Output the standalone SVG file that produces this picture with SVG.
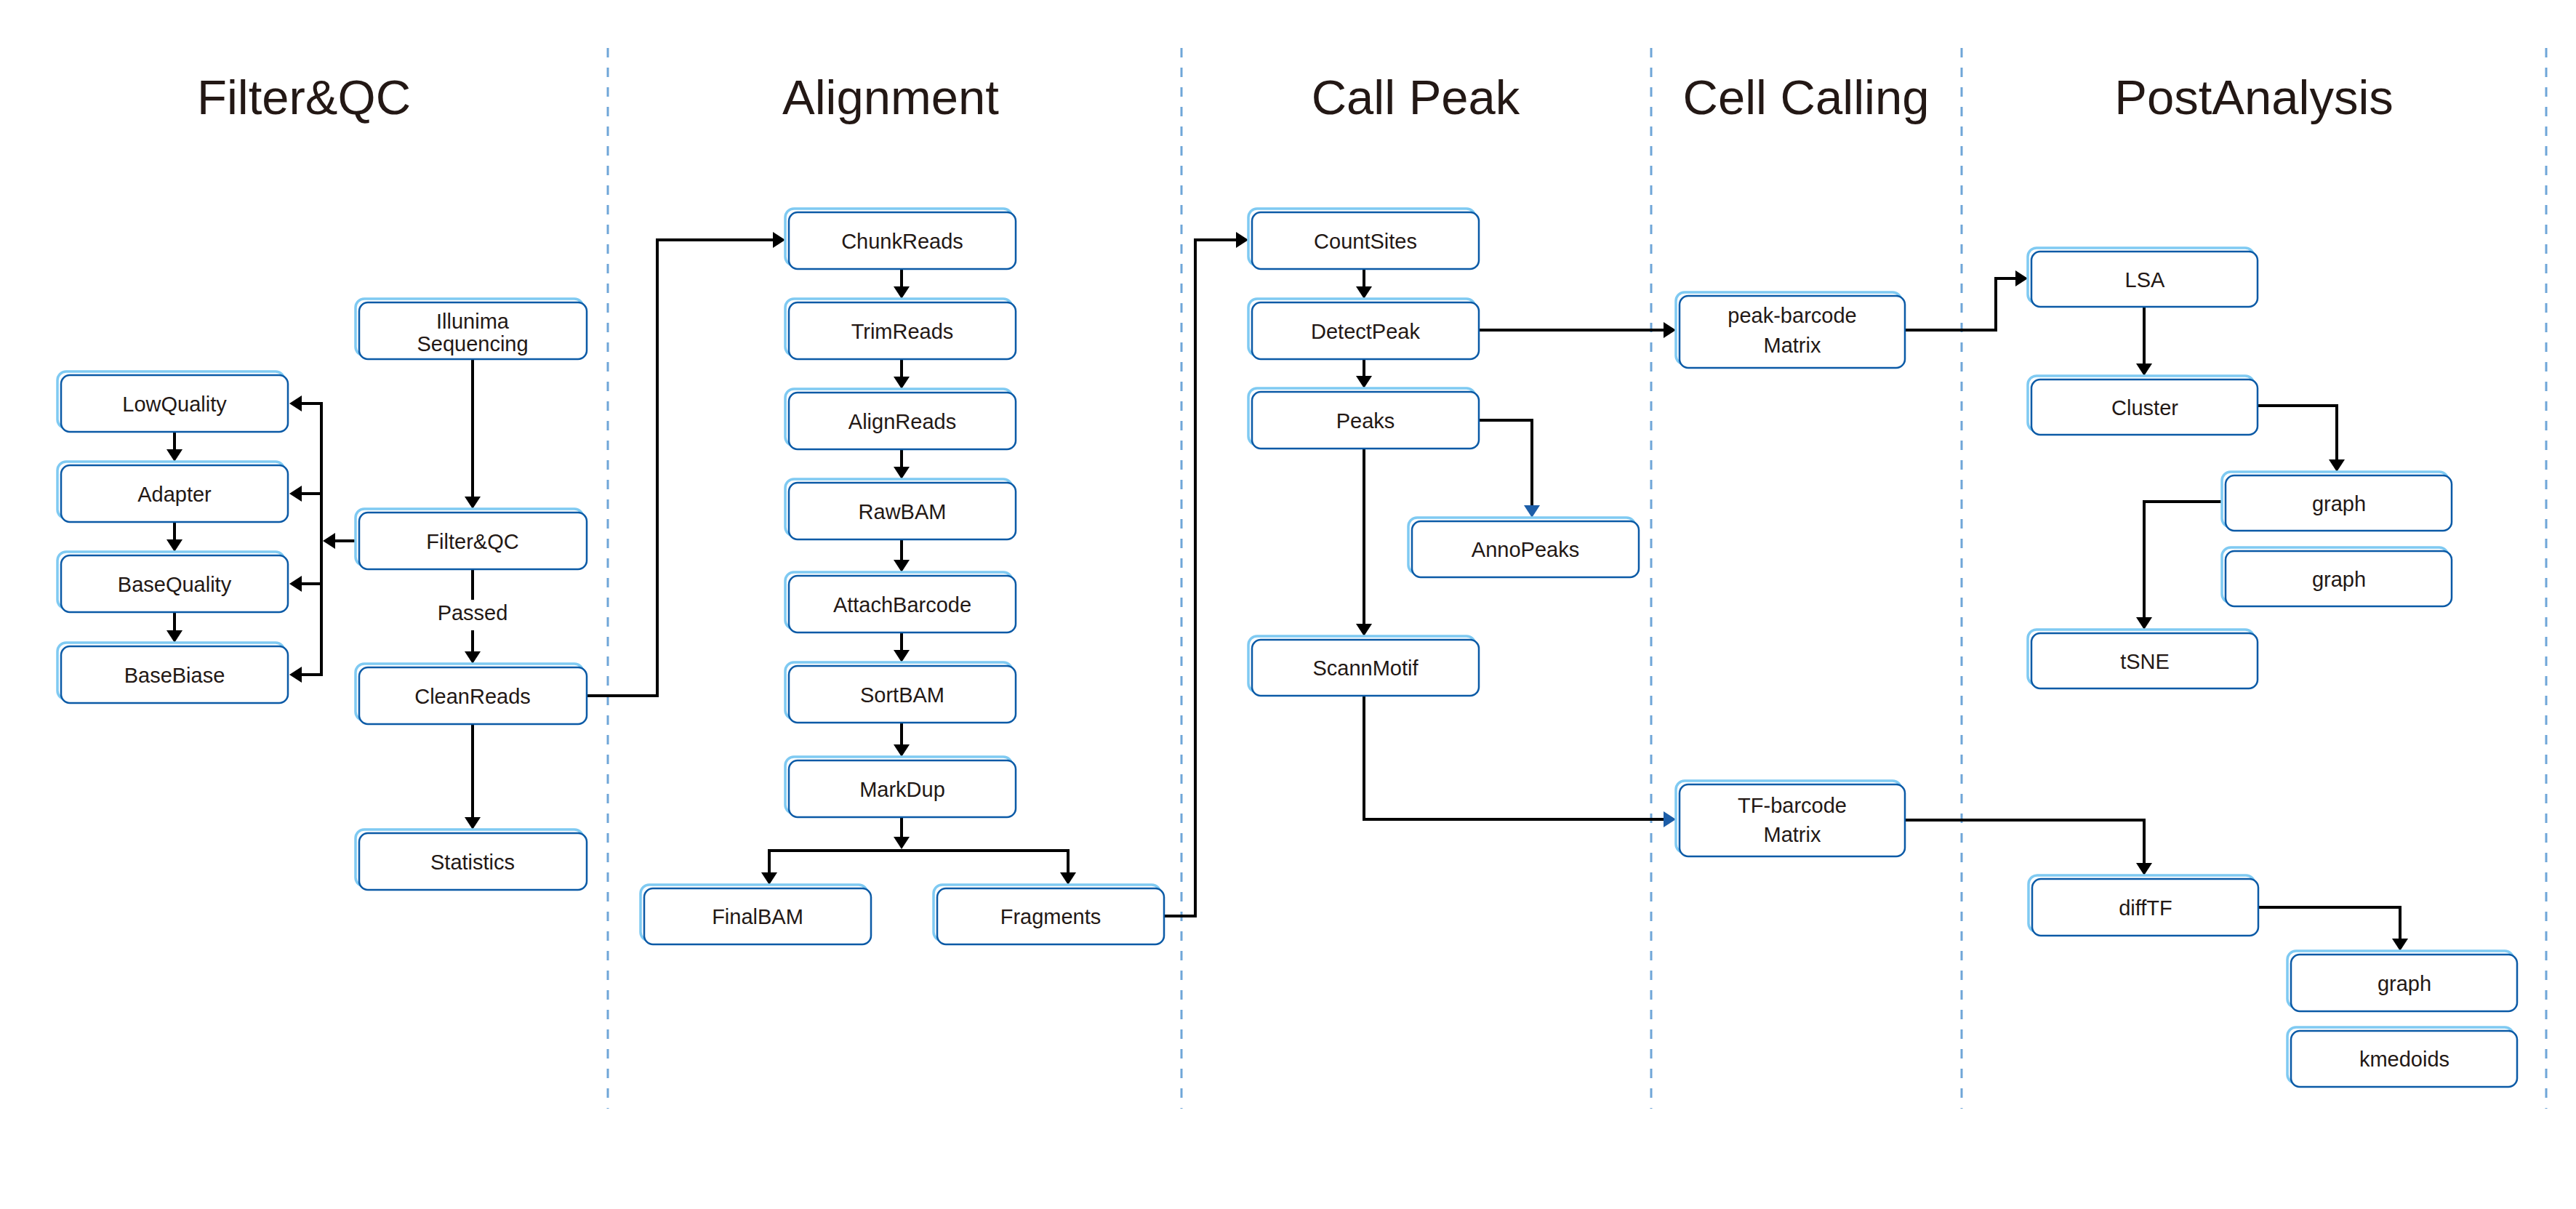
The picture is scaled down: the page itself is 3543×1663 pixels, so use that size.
<svg xmlns="http://www.w3.org/2000/svg" width="3543" height="1663" viewBox="0 0 3543 1663">
<style>
.sh{fill:none;stroke:#7fcaf2;stroke-width:3.5}
.bx{fill:#fff;stroke:#0b5aa6;stroke-width:2.5}
.t{font-family:"Liberation Sans",Arial,sans-serif;font-size:29px;fill:#231815;text-anchor:middle}
.ti{font-family:"Liberation Sans",Arial,sans-serif;font-size:67px;fill:#231815;text-anchor:middle}
.dash{stroke:#6fa6d8;stroke-width:3;stroke-dasharray:13 14;fill:none}
.c{fill:none;stroke:#000;stroke-width:4}
.ca{fill:none;stroke:#000;stroke-width:4;marker-end:url(#ah)}
.cb{fill:none;stroke:#000;stroke-width:4;marker-end:url(#ahb)}
</style>
<defs>
<marker id="ah" markerUnits="userSpaceOnUse" markerWidth="17" markerHeight="22" refX="11" refY="11" orient="auto"><path d="M0,0 L17,11 L0,22 z" fill="#000"/></marker>
<marker id="ahb" markerUnits="userSpaceOnUse" markerWidth="17" markerHeight="22" refX="11" refY="11" orient="auto"><path d="M0,0 L17,11 L0,22 z" fill="#1d5ea8"/></marker>
</defs>
<rect width="3543" height="1663" fill="#fff"/>
<g id="separators">
<line class="dash" x1="836" y1="66" x2="836" y2="1525"/>
<line class="dash" x1="1625" y1="66" x2="1625" y2="1525"/>
<line class="dash" x1="2271" y1="66" x2="2271" y2="1525"/>
<line class="dash" x1="2698" y1="66" x2="2698" y2="1525"/>
<line class="dash" x1="3502" y1="66" x2="3502" y2="1525"/>
</g>
<g id="titles">
<text class="ti" x="418" y="157">Filter&amp;QC</text>
<text class="ti" x="1225" y="157">Alignment</text>
<text class="ti" x="1947" y="157">Call Peak</text>
<text class="ti" x="2484" y="157">Cell Calling</text>
<text class="ti" x="3100" y="157">PostAnalysis</text>
</g>
<g id="connectors">
<path class="ca" d="M240,594 V629"/>
<path class="ca" d="M240,718 V753"/>
<path class="ca" d="M240,842 V878"/>
<path class="c" d="M442,553 V930"/>
<path class="ca" d="M442,555 H404"/>
<path class="ca" d="M442,679 H404"/>
<path class="ca" d="M442,803 H404"/>
<path class="ca" d="M442,928 H404"/>
<path class="ca" d="M489,744 H450"/>
<path class="ca" d="M650,494 V694"/>
<path class="c" d="M650,783 V825"/>
<path class="ca" d="M650,867 V907"/>
<path class="ca" d="M650,996 V1135"/>
<path class="ca" d="M807,957 H904 V330 H1074"/>
<path class="ca" d="M1240,370 V405"/>
<path class="ca" d="M1240,494 V529"/>
<path class="ca" d="M1240,618 V653"/>
<path class="ca" d="M1240,742 V781"/>
<path class="ca" d="M1240,870 V905"/>
<path class="ca" d="M1240,994 V1035"/>
<path class="ca" d="M1240,1124 V1162"/>
<path class="ca" d="M1240,1170 H1058 V1211"/>
<path class="ca" d="M1240,1170 H1469 V1211"/>
<path class="ca" d="M1601,1260 H1644 V330 H1711"/>
<path class="ca" d="M1876,368 V405"/>
<path class="ca" d="M1876,492 V528"/>
<path class="ca" d="M1876,616 V869"/>
<path class="cb" d="M2034,578 H2107 V706"/>
<path class="ca" d="M2034,454 H2299"/>
<path class="cb" d="M1876,956 V1127 H2299"/>
<path class="ca" d="M2620,454 H2745 V383 H2783"/>
<path class="ca" d="M2949,422 V511"/>
<path class="ca" d="M3105,558 H3214 V643"/>
<path class="ca" d="M3056,690 H2949 V860"/>
<path class="ca" d="M2620,1128 H2949 V1198"/>
<path class="ca" d="M3106,1248 H3301 V1302"/>
<text class="t" x="650" y="853">Passed</text>
</g>
<g id="n-lowquality"><rect class="sh" x="79" y="511" width="312" height="78" rx="12"/><rect class="bx" x="84" y="516" width="312" height="78" rx="12"/><text class="t" x="240" y="566">LowQuality</text></g>
<g id="n-adapter"><rect class="sh" x="79" y="635" width="312" height="78" rx="12"/><rect class="bx" x="84" y="640" width="312" height="78" rx="12"/><text class="t" x="240" y="690">Adapter</text></g>
<g id="n-basequality"><rect class="sh" x="79" y="759" width="312" height="78" rx="12"/><rect class="bx" x="84" y="764" width="312" height="78" rx="12"/><text class="t" x="240" y="814">BaseQuality</text></g>
<g id="n-basebiase"><rect class="sh" x="79" y="884" width="312" height="78" rx="12"/><rect class="bx" x="84" y="889" width="312" height="78" rx="12"/><text class="t" x="240" y="939">BaseBiase</text></g>
<g id="n-illunima"><rect class="sh" x="489" y="411" width="313" height="78" rx="12"/><rect class="bx" x="494" y="416" width="313" height="78" rx="12"/><text class="t" x="650" y="452">Illunima</text><text class="t" x="650" y="483">Sequencing</text></g>
<g id="n-filterqc"><rect class="sh" x="489" y="700" width="313" height="78" rx="12"/><rect class="bx" x="494" y="705" width="313" height="78" rx="12"/><text class="t" x="650" y="755">Filter&amp;QC</text></g>
<g id="n-cleanreads"><rect class="sh" x="489" y="913" width="313" height="78" rx="12"/><rect class="bx" x="494" y="918" width="313" height="78" rx="12"/><text class="t" x="650" y="968">CleanReads</text></g>
<g id="n-statistics"><rect class="sh" x="489" y="1141" width="313" height="78" rx="12"/><rect class="bx" x="494" y="1146" width="313" height="78" rx="12"/><text class="t" x="650" y="1196">Statistics</text></g>
<g id="n-chunkreads"><rect class="sh" x="1080" y="287" width="312" height="78" rx="12"/><rect class="bx" x="1085" y="292" width="312" height="78" rx="12"/><text class="t" x="1241" y="342">ChunkReads</text></g>
<g id="n-trimreads"><rect class="sh" x="1080" y="411" width="312" height="78" rx="12"/><rect class="bx" x="1085" y="416" width="312" height="78" rx="12"/><text class="t" x="1241" y="466">TrimReads</text></g>
<g id="n-alignreads"><rect class="sh" x="1080" y="535" width="312" height="78" rx="12"/><rect class="bx" x="1085" y="540" width="312" height="78" rx="12"/><text class="t" x="1241" y="590">AlignReads</text></g>
<g id="n-rawbam"><rect class="sh" x="1080" y="659" width="312" height="78" rx="12"/><rect class="bx" x="1085" y="664" width="312" height="78" rx="12"/><text class="t" x="1241" y="714">RawBAM</text></g>
<g id="n-attachbarcode"><rect class="sh" x="1080" y="787" width="312" height="78" rx="12"/><rect class="bx" x="1085" y="792" width="312" height="78" rx="12"/><text class="t" x="1241" y="842">AttachBarcode</text></g>
<g id="n-sortbam"><rect class="sh" x="1080" y="911" width="312" height="78" rx="12"/><rect class="bx" x="1085" y="916" width="312" height="78" rx="12"/><text class="t" x="1241" y="966">SortBAM</text></g>
<g id="n-markdup"><rect class="sh" x="1080" y="1041" width="312" height="78" rx="12"/><rect class="bx" x="1085" y="1046" width="312" height="78" rx="12"/><text class="t" x="1241" y="1096">MarkDup</text></g>
<g id="n-finalbam"><rect class="sh" x="881" y="1217" width="312" height="77" rx="12"/><rect class="bx" x="886" y="1222" width="312" height="77" rx="12"/><text class="t" x="1042" y="1271">FinalBAM</text></g>
<g id="n-fragments"><rect class="sh" x="1284" y="1217" width="312" height="77" rx="12"/><rect class="bx" x="1289" y="1222" width="312" height="77" rx="12"/><text class="t" x="1445" y="1271">Fragments</text></g>
<g id="n-countsites"><rect class="sh" x="1717" y="287" width="312" height="78" rx="12"/><rect class="bx" x="1722" y="292" width="312" height="78" rx="12"/><text class="t" x="1878" y="342">CountSites</text></g>
<g id="n-detectpeak"><rect class="sh" x="1717" y="411" width="312" height="78" rx="12"/><rect class="bx" x="1722" y="416" width="312" height="78" rx="12"/><text class="t" x="1878" y="466">DetectPeak</text></g>
<g id="n-peaks"><rect class="sh" x="1717" y="534" width="312" height="78" rx="12"/><rect class="bx" x="1722" y="539" width="312" height="78" rx="12"/><text class="t" x="1878" y="589">Peaks</text></g>
<g id="n-annopeaks"><rect class="sh" x="1937" y="712" width="312" height="77" rx="12"/><rect class="bx" x="1942" y="717" width="312" height="77" rx="12"/><text class="t" x="2098" y="766">AnnoPeaks</text></g>
<g id="n-scannmotif"><rect class="sh" x="1717" y="875" width="312" height="77" rx="12"/><rect class="bx" x="1722" y="880" width="312" height="77" rx="12"/><text class="t" x="1878" y="929">ScannMotif</text></g>
<g id="n-peakbarcode"><rect class="sh" x="2305" y="402" width="310" height="99" rx="12"/><rect class="bx" x="2310" y="407" width="310" height="99" rx="12"/><text class="t" x="2465" y="444">peak-barcode</text><text class="t" x="2465" y="485">Matrix</text></g>
<g id="n-tfbarcode"><rect class="sh" x="2305" y="1074" width="310" height="99" rx="12"/><rect class="bx" x="2310" y="1079" width="310" height="99" rx="12"/><text class="t" x="2465" y="1118">TF-barcode</text><text class="t" x="2465" y="1158">Matrix</text></g>
<g id="n-lsa"><rect class="sh" x="2789" y="341" width="311" height="76" rx="12"/><rect class="bx" x="2794" y="346" width="311" height="76" rx="12"/><text class="t" x="2950" y="395">LSA</text></g>
<g id="n-cluster"><rect class="sh" x="2789" y="517" width="311" height="76" rx="12"/><rect class="bx" x="2794" y="522" width="311" height="76" rx="12"/><text class="t" x="2950" y="571">Cluster</text></g>
<g id="n-graph1"><rect class="sh" x="3056" y="649" width="311" height="76" rx="12"/><rect class="bx" x="3061" y="654" width="311" height="76" rx="12"/><text class="t" x="3217" y="703">graph</text></g>
<g id="n-graph2"><rect class="sh" x="3056" y="753" width="311" height="76" rx="12"/><rect class="bx" x="3061" y="758" width="311" height="76" rx="12"/><text class="t" x="3217" y="807">graph</text></g>
<g id="n-tsne"><rect class="sh" x="2789" y="866" width="311" height="76" rx="12"/><rect class="bx" x="2794" y="871" width="311" height="76" rx="12"/><text class="t" x="2950" y="920">tSNE</text></g>
<g id="n-difftf"><rect class="sh" x="2790" y="1204" width="311" height="78" rx="12"/><rect class="bx" x="2795" y="1209" width="311" height="78" rx="12"/><text class="t" x="2951" y="1259">diffTF</text></g>
<g id="n-graph3"><rect class="sh" x="3146" y="1308" width="311" height="78" rx="12"/><rect class="bx" x="3151" y="1313" width="311" height="78" rx="12"/><text class="t" x="3307" y="1363">graph</text></g>
<g id="n-kmedoids"><rect class="sh" x="3146" y="1413" width="311" height="77" rx="12"/><rect class="bx" x="3151" y="1418" width="311" height="77" rx="12"/><text class="t" x="3307" y="1467">kmedoids</text></g>
</svg>
